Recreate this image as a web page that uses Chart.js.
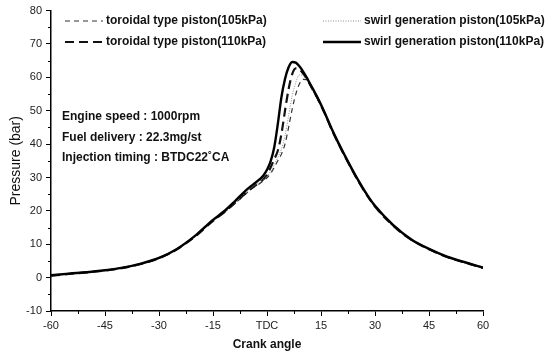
<!DOCTYPE html>
<html>
<head>
<meta charset="utf-8">
<script src="https://cdn.jsdelivr.net/npm/chart.js@4/dist/chart.umd.min.js"></script>
<style>
html,body{margin:0;padding:0;background:#fff;}
#wrap{width:545px;height:354px;position:relative;}
</style>
</head>
<body>
<div id="wrap"><canvas id="c" width="545" height="354"></canvas></div>
<script>
// Crank angle (deg), TDC = 0
const angles = [-60,-55,-50,-45,-40,-35,-30,-25,-20,-15,-12,-9,-6,-4,-2,-1,0,1,2,3,4,5,6,7,8,9,10,11,12,14,16,18,20,22,25,28,30,35,40,45,50,55,60];
// Pressure (bar)
const toroidal105 = [0.7,1.1,1.6,2.2,3.0,4.1,5.8,8.5,12.4,17.0,19.4,22.1,25.0,26.8,28.2,29.0,29.9,31.2,33.0,35.0,37.0,40.0,45.0,50.5,55.0,58.0,59.4,59.3,57.6,53.6,49.2,44.2,39.7,35.5,29.5,24.2,21.2,15.5,11.3,8.5,6.2,4.5,2.9];
const toroidal110 = [0.6,1.1,1.6,2.1,2.9,4.1,5.8,8.5,12.3,17.0,19.5,22.3,25.2,27.0,28.6,29.5,30.8,33.0,35.5,38.0,43.0,50.0,56.5,61.0,62.7,62.4,61.2,59.6,57.7,53.8,49.3,44.3,39.8,35.6,29.6,24.3,21.3,15.6,11.4,8.5,6.2,4.5,2.9];
const swirl105 = [0.8,1.2,1.7,2.3,3.1,4.2,6.0,8.7,12.6,17.2,19.6,22.4,25.4,27.2,28.6,29.3,30.3,31.8,33.8,36.0,38.5,42.5,48.5,54.5,58.5,60.7,60.6,59.4,57.6,53.7,49.4,44.4,39.9,35.7,29.7,24.4,21.4,15.7,11.5,8.6,6.3,4.6,3.0];
const swirl110 = [0.7,1.2,1.6,2.2,3.0,4.2,5.9,8.6,12.5,17.3,19.8,22.8,26.0,27.8,29.5,30.6,32.3,34.8,39.0,46.0,54.0,59.5,63.0,64.6,64.4,63.3,61.8,60.0,58.0,54.0,49.5,44.5,40.0,35.8,29.8,24.5,21.5,15.8,11.5,8.6,6.3,4.6,3.0];
const seriesLabels = ['toroidal type piston(105kPa)','toroidal type piston(110kPa)','swirl generation piston(105kPa)','swirl generation piston(110kPa)'];
const xTicks = [-60,-45,-30,-15,0,15,30,45,60];
const notes = ['Engine speed : 1000rpm','Fuel delivery : 22.3mg/st','Injection timing : BTDC22\u02daCA'];

const pts = arr => angles.map((a,i)=>({x:a,y:arr[i]}));
const styles = [
  {color:'#333', width:1.2, dash:[5,4]},
  {color:'#111', width:2.2, dash:[9,5]},
  {color:'#8a8a8a', width:1, dash:[1,1.5]},
  {color:'#000', width:2.4, dash:[]}
];
const values = [toroidal105, toroidal110, swirl105, swirl110];
const datasets = values.map((v,i)=>({
  label: seriesLabels[i],
  data: pts(v),
  borderColor: styles[i].color,
  borderWidth: styles[i].width,
  borderDash: styles[i].dash,
  pointRadius: 0,
  fill: false,
  cubicInterpolationMode: 'monotone',
  order: 3 - i
}));

const FONT = '"Liberation Sans", Arial, sans-serif';

const overlay = {
  id: 'overlay',
  afterDraw(chart) {
    const ctx = chart.ctx;
    const ca = chart.chartArea;
    ctx.save();
    const ys = chart.scales.y, xs = chart.scales.x;
    ctx.strokeStyle = '#000'; ctx.lineWidth = 1;
    for (let v = -5; v < 80; v += 10) {
      const y = Math.round(ys.getPixelForValue(v)) + 0.5;
      ctx.beginPath(); ctx.moveTo(ca.left - 3, y); ctx.lineTo(ca.left, y); ctx.stroke();
    }
    for (let v = -52.5; v < 60; v += 15) {
      const x = Math.round(xs.getPixelForValue(v)) + 0.5;
      ctx.beginPath(); ctx.moveTo(x, ca.bottom); ctx.lineTo(x, ca.bottom + 3); ctx.stroke();
    }
    // legend
    ctx.font = 'bold 12px ' + FONT;
    ctx.fillStyle = '#111';
    ctx.textBaseline = 'middle';
    const pos = [
      {x:65, y:21}, {x:65, y:42}, {x:323, y:21}, {x:323, y:42}
    ];
    datasets.forEach((d,i)=>{
      const p = pos[i];
      ctx.save();
      ctx.strokeStyle = d.borderColor;
      ctx.lineWidth = d.borderWidth;
      ctx.setLineDash(d.borderDash);
      ctx.beginPath(); ctx.moveTo(p.x, p.y); ctx.lineTo(p.x + 38, p.y); ctx.stroke();
      ctx.restore();
      ctx.fillText(d.label, p.x + 41, p.y);
    });
    // notes
    notes.forEach((t,i)=>{ ctx.fillText(t, 62, 117 + i*20.5); });
    ctx.restore();
  }
};

new Chart(document.getElementById('c'), {
  type: 'line',
  data: { datasets },
  options: {
    responsive: false,
    animation: false,
    layout: { padding: { left: 0, right: 62, top: 10, bottom: 0 } },
    plugins: { legend: { display: false }, tooltip: { enabled: false } },
    scales: {
      x: {
        type: 'linear', min: -60, max: 60,
        afterFit(s) { s.height = 43; },
        afterBuildTicks(s) { s.ticks = xTicks.map(v=>({value:v})); },
        grid: { display: true, drawOnChartArea: false, drawTicks: true, tickLength: 5, color: '#000', lineWidth: 1 },
        border: { display: true, color: '#000', width: 1.5 },
        ticks: { color: '#222', font: { family: FONT, size: 11 }, padding: 3, maxRotation: 0,
          callback: v => v === 0 ? 'TDC' : String(v) },
        title: { display: true, text: 'Crank angle', color: '#111', font: { family: FONT, size: 12, weight: 'bold' }, padding: { top: 0, bottom: 2 } }
      },
      y: {
        min: -10, max: 80,
        afterFit(s) { s.width = 51; },
        grid: { display: true, drawOnChartArea: false, drawTicks: true, tickLength: 5, color: '#000', lineWidth: 1 },
        border: { display: true, color: '#000', width: 1.5 },
        ticks: { stepSize: 10, color: '#222', font: { family: FONT, size: 11 }, padding: 4 },
        title: { display: true, text: 'Pressure (bar)', color: '#111', font: { family: FONT, size: 14 }, padding: { top: 8, bottom: 0 } }
      }
    }
  },
  plugins: [overlay]
});
</script>
</body>
</html>
